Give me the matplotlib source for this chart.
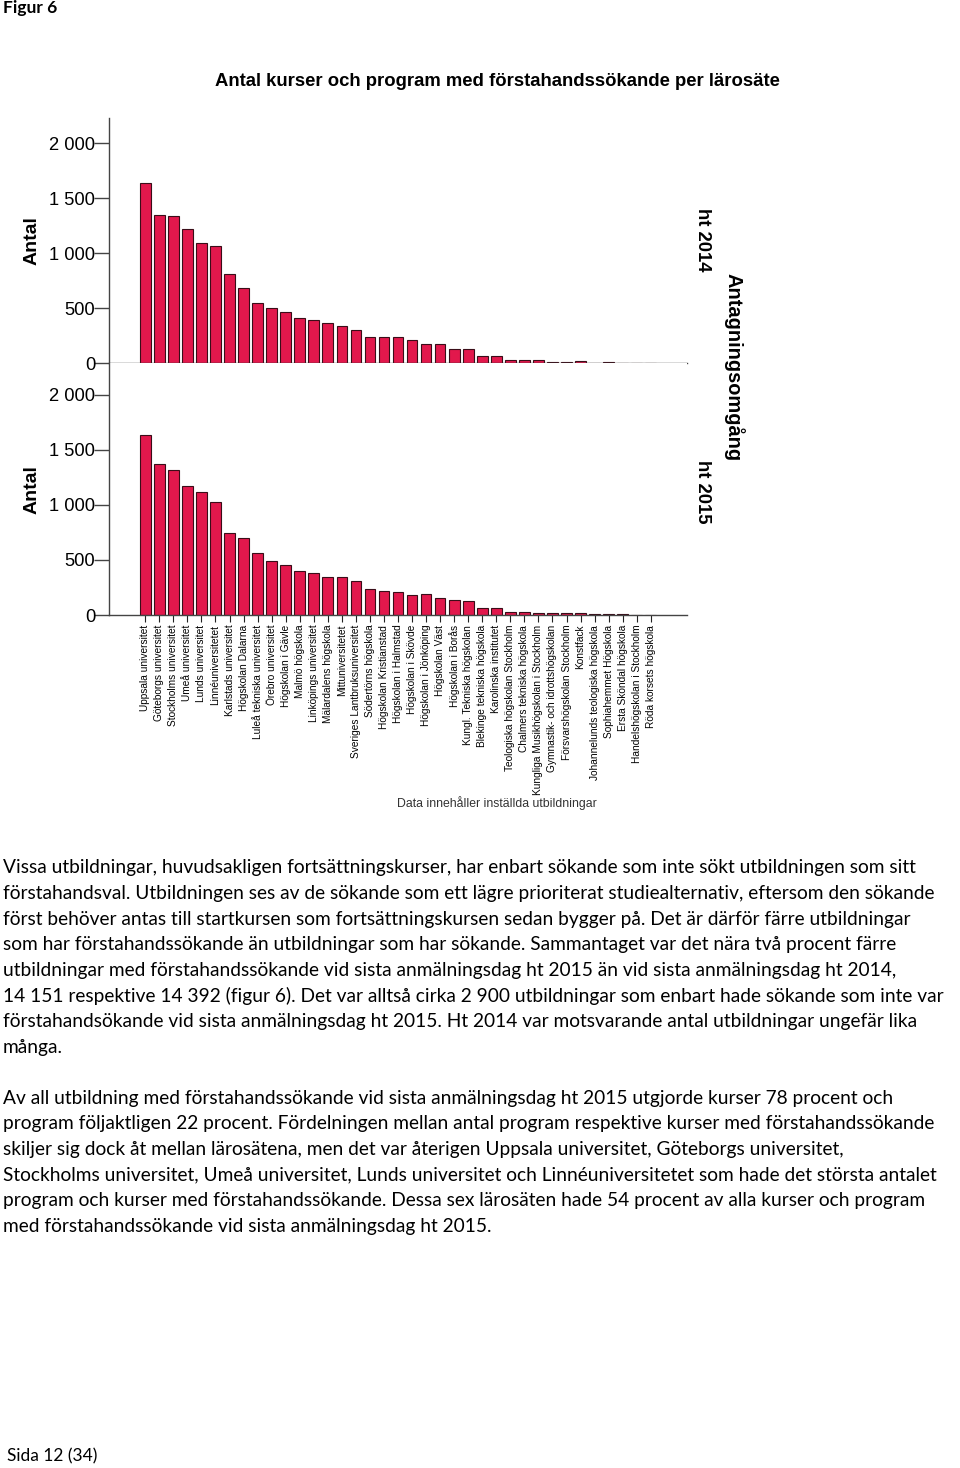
import matplotlib
matplotlib.use('Agg')
import matplotlib.pyplot as plt
import numpy as np

# Lärosäten, sorted as in the figure
schools = [
    'Uppsala universitet', 'Göteborgs universitet', 'Stockholms universitet',
    'Umeå universitet', 'Lunds universitet', 'Linnéuniversitetet',
    'Karlstads universitet', 'Högskolan Dalarna', 'Luleå tekniska universitet',
    'Örebro universitet', 'Högskolan i Gävle', 'Malmö högskola',
    'Linköpings universitet', 'Mälardalens högskola', 'Mittuniversitetet',
    'Sveriges Lantbruksuniversitet', 'Södertörns högskola',
    'Högskolan Kristianstad', 'Högskolan i Halmstad', 'Högskolan i Skövde',
    'Högskolan i Jönköping', 'Högskolan Väst', 'Högskolan i Borås',
    'Kungl. Tekniska högskolan', 'Blekinge tekniska högskola',
    'Karolinska institutet', 'Teologiska högskolan Stockholm',
    'Chalmers tekniska högskola', 'Kungliga Musikhögskolan i Stockholm',
    'Gymnastik- och idrottshögskolan', 'Försvarshögskolan Stockholm',
    'Konstfack', 'Johannelunds teologiska högskola', 'Sophiahemmet Högskola',
    'Ersta Sköndal högskola', 'Handelshögskolan i Stockholm',
    'Röda korsets högskola']

ht2014 = [1642, 1350, 1342, 1218, 1096, 1069, 809, 685, 548, 503, 469, 409,
          394, 366, 342, 305, 236, 236, 242, 209, 178, 178, 127, 127, 66, 66,
          33, 30, 27, 15, 15, 18, 6, 8, 5, 3, 2]
ht2015 = [1634, 1373, 1318, 1173, 1115, 1030, 748, 697, 566, 491, 455, 397,
          385, 343, 348, 309, 239, 221, 212, 182, 194, 157, 139, 130, 66, 64,
          27, 30, 21, 21, 18, 15, 6, 5, 5, 3, 3]

ytick_vals = [0, 500, 1000, 1500, 2000]
ytick_labels = ['0', '500', '1 000', '1 500', '2 000']

body_lines = [
    'Vissa utbildningar, huvudsakligen fortsättningskurser, har enbart sökande som inte sökt utbildningen som sitt',
    'förstahandsval. Utbildningen ses av de sökande som ett lägre prioriterat studiealternativ, eftersom den sökande',
    'först behöver antas till startkursen som fortsättningskursen sedan bygger på. Det är därför färre utbildningar',
    'som har förstahandssökande än utbildningar som har sökande. Sammantaget var det nära två procent färre',
    'utbildningar med förstahandssökande vid sista anmälningsdag ht 2015 än vid sista anmälningsdag ht 2014,',
    '14 151 respektive 14 392 (figur 6). Det var alltså cirka 2 900 utbildningar som enbart hade sökande som inte var',
    'förstahandsökande vid sista anmälningsdag ht 2015. Ht 2014 var motsvarande antal utbildningar ungefär lika',
    'många.',
    '',
    'Av all utbildning med förstahandssökande vid sista anmälningsdag ht 2015 utgjorde kurser 78 procent och',
    'program följaktligen 22 procent. Fördelningen mellan antal program respektive kurser med förstahandssökande',
    'skiljer sig dock åt mellan lärosätena, men det var återigen Uppsala universitet, Göteborgs universitet,',
    'Stockholms universitet, Umeå universitet, Lunds universitet och Linnéuniversitetet som hade det största antalet',
    'program och kurser med förstahandssökande. Dessa sex lärosäten hade 54 procent av alla kurser och program',
    'med förstahandssökande vid sista anmälningsdag ht 2015.',
]

W, H = 960, 1468
fig = plt.figure(figsize=(W / 100, H / 100), dpi=100)

chart_font = 'Liberation Sans'
body_font = 'Lato'
barcol = '#E2184C'
edgecol = '#3a0d18'
spinecol = '#444444'

# axes rectangles, pixels -> figure fractions
left_px, right_px = 109.3, 687
x = np.arange(len(schools))
xlim = (-2.56, 38.58)


def make_panel(top_px, bottom_px, values, ymax, show_x):
    ax = fig.add_axes([left_px / W, 1 - bottom_px / H,
                       (right_px - left_px) / W, (bottom_px - top_px) / H])
    ax.bar(x, values, width=0.76, color=barcol, edgecolor=edgecol,
           linewidth=0.8)
    ax.set_xlim(*xlim)
    ax.set_ylim(0, ymax)
    for s in ['top', 'right']:
        ax.spines[s].set_visible(False)
    for s in ['left', 'bottom']:
        ax.spines[s].set_color(spinecol)
        ax.spines[s].set_linewidth(1.0)
    ax.set_yticks(ytick_vals)
    ax.set_yticklabels(ytick_labels, fontsize=13.2, family=chart_font)
    ax.tick_params(axis='y', length=11, width=1.0, color=spinecol, pad=-0.8)
    if show_x:
        ax.set_xticks(x)
        ax.set_xticklabels(schools, rotation=90, fontsize=7.3,
                           family=chart_font)
        ax.tick_params(axis='x', length=5, width=0.8, color='#222222',
                       pad=2)
    else:
        ax.set_xticks([])
    ax.set_ylabel('Antal', fontsize=14, fontweight='bold', family=chart_font)
    ax.yaxis.set_label_coords((41 - left_px) / (right_px - left_px), 0.5)
    return ax


ax_top = make_panel(118, 363.3, ht2014, 2230, False)
ax_bot = make_panel(363.3, 615, ht2015, 2288, True)

fig.text(497 / W, 1 - 81 / H,
         'Antal kurser och program med förstahandssökande per lärosäte',
         ha='center', va='center', fontsize=13.35, fontweight='bold',
         family=chart_font)
fig.text(702 / W, 1 - 240 / H, 'ht 2014', rotation=-90, ha='center',
         va='center', fontsize=13.3, fontweight='bold', family=chart_font)
fig.text(702 / W, 1 - 492 / H, 'ht 2015', rotation=-90, ha='center',
         va='center', fontsize=13.3, fontweight='bold', family=chart_font)
fig.text(734 / W, 1 - 367 / H, 'Antagningsomgång', rotation=-90,
         ha='center', va='center', fontsize=14.4, fontweight='bold',
         family=chart_font)
fig.text(497 / W, 1 - 803 / H, 'Data innehåller inställda utbildningar',
         ha='center', va='center', fontsize=8.8, color='#333333',
         family=chart_font)

# page text around the figure
fig.text(3 / W, 1 - 8 / H, 'Figur 6', ha='left', va='center', fontsize=12.5,
         fontweight='bold', family=body_font)
y0, dy = 868, 25.6
for i, line in enumerate(body_lines):
    fig.text(3 / W, 1 - (y0 + i * dy) / H, line, ha='left', va='center',
             fontsize=13.75, family=body_font)
fig.text(7 / W, 1 - 1456 / H, 'Sida 12 (34)', ha='left', va='center',
         fontsize=12.5, family=body_font)

fig.savefig('out.png', dpi=100)
plt.close(fig)
